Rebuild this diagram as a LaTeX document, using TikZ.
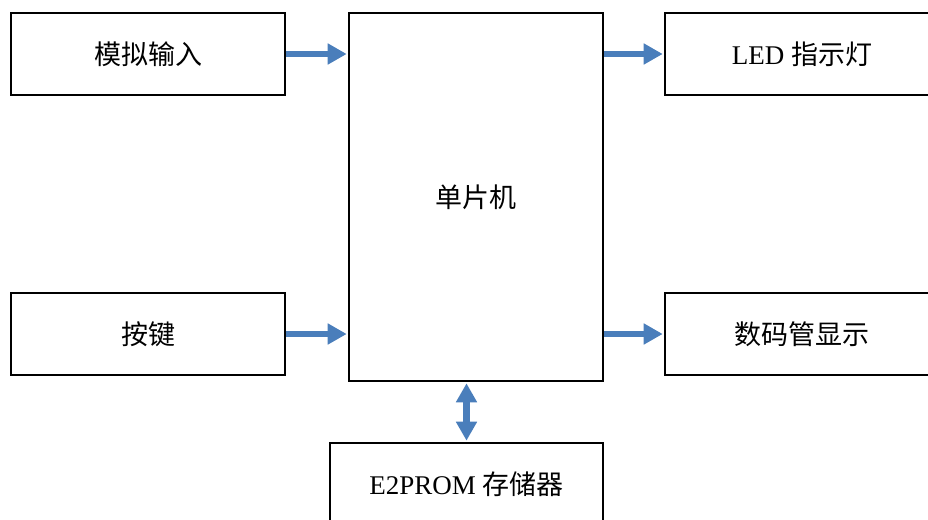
\documentclass[tikz,border=0pt]{standalone}
\usepackage{fontspec}
\setmainfont{Liberation Serif}
\newfontfamily\cjk{Noto Sans CJK SC}
\usetikzlibrary{arrows.meta}
\definecolor{arrblue}{RGB}{74,126,187}
\tikzset{
	block/.style={draw=black, line width=1.6pt, minimum width=274pt, minimum height=82pt, inner sep=0pt, font=\fontsize{27}{32}\selectfont},
	flow/.style={arrblue, line width=6.5pt, -{Triangle[length=19pt,width=20pt]}, shorten >=1.5pt},
	flowboth/.style={arrblue, line width=6.5pt, {Triangle[length=19pt,width=20pt]}-{Triangle[length=19pt,width=20pt]}, shorten >=1.5pt, shorten <=1.5pt},
}
\begin{document}
\begin{tikzpicture}[x=1pt,y=-1pt]
	\useasboundingbox (0,0) rectangle (928,519);
	\node[block] (input) at (148,54) {\cjk 模拟输入};
	\node[block] (keys) at (148,334) {\cjk 按键};
	\node[block, minimum width=254pt, minimum height=368pt] (mcu) at (476,197) {\cjk 单片机};
	\node[block] (led) at (802,54) {LED {\cjk 指示灯}};
	\node[block] (seg) at (802,334) {\cjk 数码管显示};
	\node[block, minimum width=273pt] (eeprom) at (466.5,484) {E2PROM {\cjk 存储器}};
	% connections
	\draw[flow] (input.east) -- (input.east -| mcu.west);
	\draw[flow] (keys.east) -- (keys.east -| mcu.west);
	\draw[flow] (led.west -| mcu.east) -- (led.west);
	\draw[flow] (seg.west -| mcu.east) -- (seg.west);
	\draw[flowboth] (eeprom.north |- mcu.south) -- (eeprom.north);
\end{tikzpicture}
\end{document}
